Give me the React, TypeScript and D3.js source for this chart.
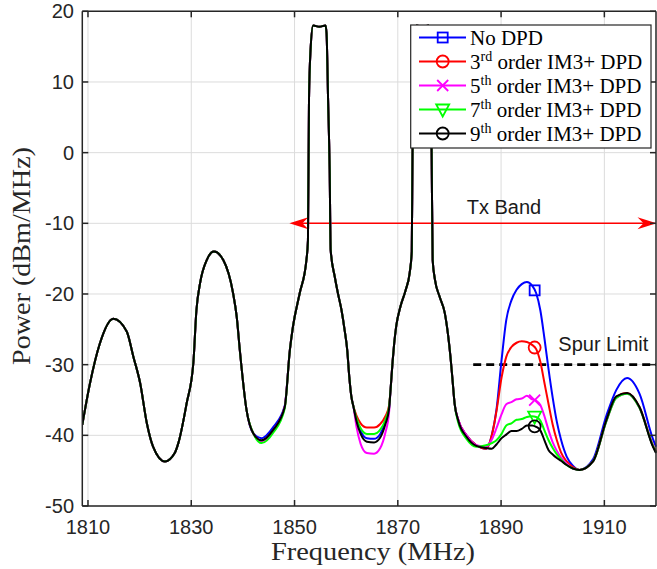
import React from 'react';
import * as d3 from 'd3';

// ---------- data ----------
const freqs = [
  1808.9, 1810.4, 1812.3, 1814.9, 1817.5, 1818.8, 1820.1, 1821.4, 1822.6, 1824.9,
  1826.8, 1827.5, 1829.1, 1830.4, 1831.0, 1831.7, 1833.0, 1834.4, 1836.2, 1838.1,
  1838.8, 1839.4, 1840.7, 1842.0, 1843.6, 1845.9, 1848.1, 1849.1, 1849.7, 1851.0,
  1852.3, 1852.6, 1852.8, 1853.1, 1853.6, 1854.8, 1856.0, 1856.2, 1856.5, 1856.8,
  1857.0, 1857.8, 1858.4, 1859.1, 1859.7, 1860.2, 1860.6, 1861.0, 1861.4, 1862.0,
  1862.8, 1864.0, 1865.4, 1866.6, 1867.6, 1868.3, 1868.6, 1869.0, 1869.3, 1869.7,
  1870.5, 1871.5, 1872.3, 1872.7, 1872.85, 1873.1, 1873.6, 1874.8, 1876.0, 1876.3,
  1876.55, 1876.75, 1877.2, 1878.1, 1879.1, 1879.7, 1880.2, 1880.6, 1881.0, 1881.7,
  1883.3, 1885.2, 1887.1, 1888.2, 1889.1, 1890.1, 1891.0, 1892.0, 1893.0, 1894.0,
  1895.0, 1896.0, 1896.8, 1897.6, 1898.4, 1899.2, 1900.0, 1900.8, 1901.6, 1902.7,
  1903.9, 1905.2, 1907.8, 1910.4, 1912.3, 1914.4, 1916.8, 1919.4, 1920.0,
];

const noDpd = [
  -38.5, -32.6, -27.0, -23.5, -25.3, -28.9, -32.6, -38.3, -41.6, -43.7,
  -42.5, -41.1, -35.5, -29.8, -22.3, -18.5, -15.2, -14.0, -15.2, -19.9,
  -23.2, -27.9, -36.4, -39.7, -40.4, -38.8, -35.8, -27.9, -24.6, -19.9,
  -15.2, -12.4, 7.4, 14.5, 18.0, 17.8, 18.0, 16.9, 7.4, -2.3,
  -13.8, -17.6, -19.9, -22.3, -25.1, -27.9, -31.7, -34.5, -35.9, -37.8,
  -39.4, -40.4, -40.5, -39.8, -38.1, -36.2, -33.5, -29.5, -27.0, -24.5,
  -21.8, -19.5, -17.0, -14.0, 0, 12, 18, 17.8, 18, 12,
  0, -15.2, -18.0, -20.4, -22.7, -25.6, -28.9, -32.2, -35.5, -37.8,
  -40.0, -41.4, -41.9, -40.0, -36.4, -29.3, -23.7, -20.9, -19.4, -18.6,
  -18.3, -18.8, -19.9, -22.3, -26.3, -30.7, -34.7, -38.1, -40.6, -43.0,
  -44.3, -44.9, -43.4, -37.2, -33.6, -31.9, -34.1, -40.5, -41.6,
];

const dpd3 = [
  -38.5, -32.6, -27.0, -23.5, -25.3, -28.9, -32.6, -38.3, -41.6, -43.7,
  -42.5, -41.1, -35.5, -29.8, -22.3, -18.5, -15.2, -14.0, -15.2, -19.9,
  -23.2, -27.9, -36.4, -39.7, -40.8, -39.3, -36.0, -27.9, -24.6, -19.9,
  -15.2, -12.4, 7.4, 14.5, 18.0, 17.8, 18.0, 16.9, 7.4, -2.3,
  -13.8, -17.6, -19.9, -22.3, -25.1, -27.9, -31.7, -34.5, -35.9, -37.2,
  -38.3, -38.9, -38.9, -38.4, -37.3, -35.8, -33.5, -29.5, -27.0, -24.5,
  -21.8, -19.5, -17.0, -14.0, 0, 12, 18, 17.8, 18, 12,
  0, -15.2, -18.0, -20.4, -22.7, -25.6, -28.9, -32.2, -35.5, -37.8,
  -40.0, -41.4, -41.9, -40.0, -36.6, -31.8, -28.9, -27.5, -26.9, -26.7,
  -26.8, -27.2, -27.8, -29.6, -32.6, -35.6, -38.5, -40.7, -42.4, -43.7,
  -44.5, -44.9, -43.7, -37.9, -34.6, -34.0, -36.0, -41.4, -42.3,
];

const dpd5 = [
  -38.5, -32.6, -27.0, -23.5, -25.3, -28.9, -32.6, -38.3, -41.6, -43.7,
  -42.5, -41.1, -35.5, -29.8, -22.3, -18.5, -15.2, -14.0, -15.2, -19.9,
  -23.2, -27.9, -36.4, -39.7, -40.8, -39.3, -36.0, -27.9, -24.6, -19.9,
  -15.2, -12.4, 7.4, 14.5, 18.0, 17.8, 18.0, 16.9, 7.4, -2.3,
  -13.8, -17.6, -19.9, -22.3, -25.1, -27.9, -31.7, -34.5, -35.9, -38.8,
  -41.2, -42.5, -42.6, -41.8, -39.6, -36.8, -33.5, -29.5, -27.0, -24.5,
  -21.8, -19.5, -17.0, -14.0, 0, 12, 18, 17.8, 18, 12,
  0, -15.2, -18.0, -20.4, -22.7, -25.6, -28.9, -32.2, -35.5, -37.8,
  -40.0, -41.4, -41.6, -40.6, -39.0, -37.0, -35.6, -35.3, -34.9, -34.8,
  -34.4, -34.9, -35.1, -35.7, -37.3, -39.3, -41.0, -42.2, -43.1, -44.0,
  -44.7, -44.9, -43.7, -38.0, -34.7, -34.1, -36.1, -41.5, -42.4,
];

const dpd7 = [
  -38.5, -32.6, -27.0, -23.5, -25.3, -28.9, -32.6, -38.3, -41.6, -43.7,
  -42.5, -41.1, -35.5, -29.8, -22.3, -18.5, -15.2, -14.0, -15.2, -19.9,
  -23.2, -27.9, -36.4, -39.7, -41.1, -39.6, -36.2, -27.9, -24.6, -19.9,
  -15.2, -12.4, 7.4, 14.5, 18.0, 17.8, 18.0, 16.9, 7.4, -2.3,
  -13.8, -17.6, -19.9, -22.3, -25.1, -27.9, -31.7, -34.5, -35.9, -37.6,
  -39.0, -39.8, -39.8, -39.2, -37.8, -36.0, -33.5, -29.5, -27.0, -24.5,
  -21.8, -19.5, -17.0, -14.0, 0, 12, 18, 17.8, 18, 12,
  0, -15.2, -18.0, -20.4, -22.7, -25.6, -28.9, -32.2, -35.5, -38.2,
  -40.5, -41.6, -41.4, -41.1, -40.7, -39.8, -38.6, -38.3, -37.8, -37.7,
  -37.4, -37.3, -37.4, -37.9, -39.3, -40.7, -41.8, -42.7, -43.4, -44.2,
  -44.7, -44.9, -43.7, -38.0, -34.7, -34.1, -36.1, -41.5, -42.4,
];

const dpd9 = [
  -38.5, -32.6, -27.0, -23.5, -25.3, -28.9, -32.6, -38.3, -41.6, -43.7,
  -42.5, -41.1, -35.5, -29.8, -22.3, -18.5, -15.2, -14.0, -15.2, -19.9,
  -23.2, -27.9, -36.4, -39.7, -40.7, -39.2, -36.0, -27.9, -24.6, -19.9,
  -15.2, -12.4, 7.4, 14.5, 18.0, 17.8, 18.0, 16.9, 7.4, -2.3,
  -13.8, -17.6, -19.9, -22.3, -25.1, -27.9, -31.7, -34.5, -35.9, -38.0,
  -39.8, -40.9, -41.0, -40.3, -38.4, -36.3, -33.5, -29.5, -27.0, -24.5,
  -21.8, -19.5, -17.0, -14.0, 0, 12, 18, 17.8, 18, 12,
  0, -15.2, -18.0, -20.4, -22.7, -25.6, -28.9, -32.2, -35.5, -37.9,
  -40.2, -41.5, -41.8, -41.9, -41.3, -40.4, -39.9, -39.4, -39.4, -39.1,
  -38.6, -38.6, -38.8, -39.3, -40.7, -42.1, -42.7, -43.2, -43.6, -44.2,
  -44.7, -44.9, -43.7, -37.8, -34.5, -34.0, -36.0, -41.6, -42.5,
];

const seriesValues = [noDpd, dpd3, dpd5, dpd7, dpd9];
const seriesColors = ['#0000ff', '#ff0000', '#ff00ff', '#00ff00', '#000000'];
const seriesMarkers = ['square', 'circle', 'x', 'triangle', 'circle'];
const legendLabels = [
  { sup: '', pre: 'No DPD', post: '' },
  { pre: '3', sup: 'rd', post: ' order IM3+ DPD' },
  { pre: '5', sup: 'th', post: ' order IM3+ DPD' },
  { pre: '7', sup: 'th', post: ' order IM3+ DPD' },
  { pre: '9', sup: 'th', post: ' order IM3+ DPD' },
];
const markerFreq = 1896.5;

const xTicks = [1810, 1830, 1850, 1870, 1890, 1910];
const yTicks = [-50, -40, -30, -20, -10, 0, 10, 20];
const xDomain = [1808.9, 1920];
const yDomain = [-50, 20];

const spurLimit = -30;
const spurRange = [1884.6, 1920];
const txLevel = -10;
const txRange = [1849.0, 1920.1];

// ---------- layout ----------
const W = 657;
const H = 569;
const L = 82.3, R = 656, T = 11.3, B = 506;
const sans = "'Liberation Sans', Arial, Helvetica, sans-serif";
const serif = "'Liberation Serif', 'Times New Roman', serif";
const axisColor = '#262626';

function Marker({ kind, cx, cy, color }: { kind: string; cx: number; cy: number; color: string }) {
  const sw = 1.8;
  if (kind === 'square')
    return <rect x={cx - 5} y={cy - 5} width={10} height={10} fill="none" stroke={color} strokeWidth={sw} />;
  if (kind === 'circle')
    return <circle cx={cx} cy={cy} r={6} fill="none" stroke={color} strokeWidth={sw} />;
  if (kind === 'x')
    return (
      <path d={`M${cx - 5.5},${cy - 5.5}L${cx + 5.5},${cy + 5.5}M${cx - 5.5},${cy + 5.5}L${cx + 5.5},${cy - 5.5}`}
        stroke={color} strokeWidth={sw} fill="none" />
    );
  return (
    <path d={`M${cx - 6.5},${cy - 5}L${cx + 6.5},${cy - 5}L${cx},${cy + 7}Z`} fill="none" stroke={color} strokeWidth={sw} />
  );
}

export default function App() {
  const x = d3.scaleLinear().domain(xDomain).range([L, R]);
  const y = d3.scaleLinear().domain(yDomain).range([B, T]);

  const line = d3
    .line<number>()
    .x((_, i) => x(freqs[i]))
    .y((d) => y(d))
    .curve(d3.curveMonotoneX);

  const interp = (vals: number[], f: number) => {
    const i = d3.bisectRight(freqs, f) - 1;
    const t = (f - freqs[i]) / (freqs[i + 1] - freqs[i]);
    return vals[i] + t * (vals[i + 1] - vals[i]);
  };

  const txY = y(txLevel);
  const tx0 = x(txRange[0]);
  const tx1 = x(txRange[1]);

  const legX = 410.7, legY = 25, legW = 240.3, legH = 123;

  return (
    <svg width={W} height={H} style={{ position: 'absolute', left: 0, top: 0, background: '#fff' }}>
      <defs>
        <clipPath id="plotclip">
          <rect x={L} y={T} width={R - L + 2} height={B - T} />
        </clipPath>
      </defs>
      <rect x={0} y={0} width={W} height={H} fill="#fff" />
      {/* grid */}
      <g stroke="#dcdcdc" strokeWidth={1}>
        {xTicks.map((t) => (
          <line key={'gx' + t} x1={x(t)} x2={x(t)} y1={T} y2={B} />
        ))}
        {yTicks.map((t) => (
          <line key={'gy' + t} x1={L} x2={R} y1={y(t)} y2={y(t)} />
        ))}
      </g>

      {/* Tx band arrow */}
      <g>
        <line x1={tx0 + 10} x2={tx1 - 10} y1={txY} y2={txY} stroke="#ff0000" strokeWidth={1.5} />
        <path d={`M${tx0},${txY}L${tx0 + 19},${txY - 6}L${tx0 + 13},${txY}L${tx0 + 19},${txY + 6}Z`} fill="#ff0000" />
        <path d={`M${tx1},${txY}L${tx1 - 19},${txY - 6}L${tx1 - 13},${txY}L${tx1 - 19},${txY + 6}Z`} fill="#ff0000" />
        <text x={466.7} y={214} fontFamily={sans} fontSize={20} fill="#1a1a1a">Tx Band</text>
      </g>

      {/* spur limit */}
      <line x1={x(spurRange[0])} x2={x(spurRange[1])} y1={y(spurLimit)} y2={y(spurLimit)}
        stroke="#000" strokeWidth={2.6} strokeDasharray="8,5" />
      <text x={558.3} y={350.7} fontFamily={sans} fontSize={20} fill="#1a1a1a">Spur Limit</text>

      {/* series */}
      <g clipPath="url(#plotclip)">
        {seriesValues.map((vals, s) => (
          <path key={'s' + s} d={line(vals) || ''} fill="none" stroke={seriesColors[s]} strokeWidth={2}
            strokeLinejoin="round" />
        ))}
        {seriesValues.map((vals, s) => (
          <Marker key={'m' + s} kind={seriesMarkers[s]} cx={x(markerFreq)} cy={y(interp(vals, markerFreq))}
            color={seriesColors[s]} />
        ))}
      </g>

      {/* axes box & ticks */}
      <g stroke={axisColor} strokeWidth={1.5} fill="none">
        <line x1={L} x2={L} y1={T} y2={B} />
        <line x1={L} x2={R} y1={B} y2={B} />
        <line x1={L} x2={R} y1={T} y2={T} />
        <line x1={R} x2={R} y1={T} y2={B} />
        {xTicks.map((t) => (
          <g key={'tx' + t}>
            <line x1={x(t)} x2={x(t)} y1={B} y2={B - 6} />
            <line x1={x(t)} x2={x(t)} y1={T} y2={T + 6} />
          </g>
        ))}
        {yTicks.map((t) => (
          <g key={'ty' + t}>
            <line x1={L} x2={L + 6} y1={y(t)} y2={y(t)} />
            <line x1={R} x2={R - 6} y1={y(t)} y2={y(t)} />
          </g>
        ))}
      </g>
      <g fontFamily={sans} fontSize={20} fill={axisColor}>
        {xTicks.map((t) => (
          <text key={'lx' + t} x={x(t)} y={534} textAnchor="middle">{t}</text>
        ))}
        {yTicks.map((t) => (
          <text key={'ly' + t} x={74} y={y(t) + 7} textAnchor="end">{t}</text>
        ))}
      </g>

      {/* axis labels */}
      <text x={373} y={560} textAnchor="middle" fontFamily={serif} fontSize={26} fill={axisColor}
        textLength={204} lengthAdjust="spacingAndGlyphs">Frequency (MHz)</text>
      <text transform={`translate(30,256) rotate(-90)`} textAnchor="middle" fontFamily={serif} fontSize={26}
        fill={axisColor} textLength={218} lengthAdjust="spacingAndGlyphs">Power (dBm/MHz)</text>

      {/* legend */}
      <g>
        <rect x={legX} y={legY} width={legW} height={legH} fill="#fff" stroke={axisColor} strokeWidth={1.2} />
        {legendLabels.map((lab, i) => {
          const ry = 37.5 + 24 * i;
          return (
            <g key={'lg' + i}>
              <line x1={419} x2={466} y1={ry} y2={ry} stroke={seriesColors[i]} strokeWidth={2} />
              <Marker kind={seriesMarkers[i]} cx={442.7} cy={ry} color={seriesColors[i]} />
              <text x={470} y={ry + 7} fontFamily={serif} fontSize={21} fill="#000">
                <tspan>{lab.pre}</tspan>
                {lab.sup ? <tspan dy={-8} fontSize={14}>{lab.sup}</tspan> : null}
                {lab.post ? <tspan dy={lab.sup ? 8 : 0}>{lab.post}</tspan> : null}
              </text>
            </g>
          );
        })}
      </g>
    </svg>
  );
}
